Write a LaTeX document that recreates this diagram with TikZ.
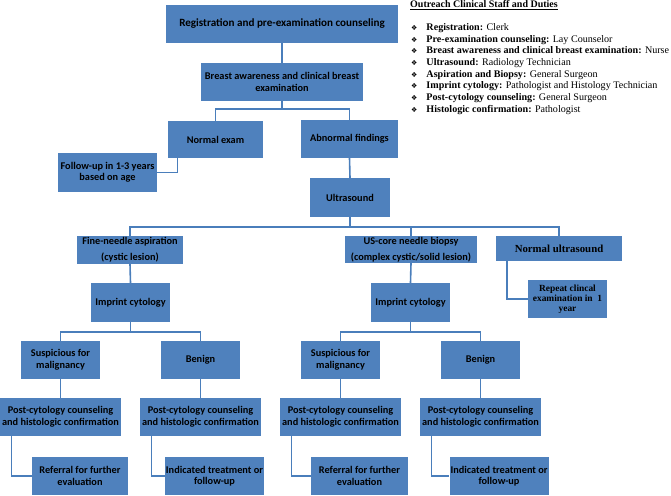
\documentclass[tikz,border=0pt]{standalone}
\usepackage{fontspec}
\setmainfont{Liberation Serif}
\newfontfamily\boxfont{Carlito}
\newfontfamily\dingfont{DejaVu Sans}
\usetikzlibrary{calc}
\definecolor{boxBlue}{HTML}{4F81BD}
\definecolor{linkBlue}{HTML}{4A7EBB}
\newcommand{\dutyMark}{{\dingfont\fontsize{7}{7}\selectfont ❖}}
\tikzset{
  flowBox/.style 2 args={
    fill=boxBlue,
    draw=none,
    inner sep=1pt,
    align=center,
    minimum width=#1pt,
    minimum height=#2pt,
    font=\boxfont\bfseries\fontsize{10.3}{11.5}\selectfont
  },
  serifBox/.style={
    font=\bfseries\fontsize{9.4}{10}\selectfont
  },
  link/.style={
    draw=linkBlue,
    line width=1.6pt
  },
  dutyText/.style={
    inner sep=0pt,
    font=\fontsize{10.1}{11.7}\selectfont
  }
}

\begin{document}
\begin{tikzpicture}[x=1pt, y=-1pt]
\useasboundingbox (0,0) rectangle (671,495);

% === Screening ===
\node[flowBox={232}{38}, font=\boxfont\bfseries\fontsize{11.1}{12}\selectfont] (reg) at (282,24) {Registration and pre-examination counseling};
\node[flowBox={162}{38}] (breast) at (282,82) {Breast awareness and clinical breast\\examination};
\node[flowBox={95}{37}] (normal) at (215.5,139.5) {Normal exam};
\node[flowBox={97}{38}] (abnormal) at (349.5,139) {Abnormal findings};
\node[flowBox={99}{39}] (follow) at (107.5,172.5) {Follow-up in 1-3 years\\based on age};
\node[flowBox={80}{39}] (ultra) at (350,197.5) {Ultrasound};

% === Ultrasound outcomes ===
\node[flowBox={106}{28}, font=\boxfont\bfseries\fontsize{10.3}{16}\selectfont] (fna) at (130,250) {Fine-needle aspiration\\(cystic lesion)};
\node[flowBox={132}{27}, font=\boxfont\bfseries\fontsize{10.3}{15.5}\selectfont] (core) at (411,249.5) {US-core needle biopsy\\(complex cystic/solid lesion)};
\node[flowBox={126}{25}, serifBox, font=\bfseries\fontsize{10.8}{12}\selectfont] (normus) at (559,248.5) {Normal ultrasound};
\node[flowBox={79}{38}, serifBox] (repeat) at (567.5,299) {Repeat clincal\\examination in\ \ 1\\year};

\node[flowBox={79}{39}] (impL) at (130.5,302.5) {Imprint cytology};
\node[flowBox={79}{39}] (impR) at (410.5,302.5) {Imprint cytology};

% === Cytology results ===
\node[flowBox={79}{38}] (suspL) at (60.5,360) {Suspicious for\\malignancy};
\node[flowBox={79}{38}] (benL) at (200.5,360) {Benign};
\node[flowBox={79}{38}] (suspR) at (340.5,360) {Suspicious for\\malignancy};
\node[flowBox={79}{38}] (benR) at (480.5,360) {Benign};

\node[flowBox={121}{38}] (postL1) at (60.5,417) {Post-cytology counseling\\and histologic confirmation};
\node[flowBox={121}{38}] (postL2) at (200.5,417) {Post-cytology counseling\\and histologic confirmation};
\node[flowBox={121}{38}] (postR1) at (340.5,417) {Post-cytology counseling\\and histologic confirmation};
\node[flowBox={121}{38}] (postR2) at (480.5,417) {Post-cytology counseling\\and histologic confirmation};

\node[flowBox={96}{38}] (referL) at (80,476) {Referral for further\\evaluation};
\node[flowBox={87}{38}] (treatL) at (214.5,476) {Indicated treatment or\\follow-up};
\node[flowBox={97}{38}] (referR) at (359.5,476) {Referral for further\\evaluation};
\node[flowBox={96}{38}] (treatR) at (499,476) {Indicated treatment or\\follow-up};

% === Connectors ===
\draw[link] (reg.south) -- (breast.north);
\draw[link] (breast.south) -- ++(0,8) -| (normal.north);
\draw[link] (breast.south) -- ++(0,8) -| (abnormal.north);
\draw[link] ([xshift=-38pt]normal.south) |- (follow.east);
\draw[link] (abnormal.south) -- (ultra.north);

\draw[link] (ultra.south) -- ++(0,10) -| (fna.north);
\draw[link] (ultra.south) -- ++(0,10) -| (core.north);
\draw[link] (ultra.south) -- ++(0,10) -| (normus.north);
\draw[link] ([xshift=-52pt]normus.south) |- (repeat.west);

\draw[link] (fna.south) -- (impL.north);
\draw[link] (core.south) -- (impR.north);

\draw[link] (impL.south) -- ++(0,10) -| (suspL.north);
\draw[link] (impL.south) -- ++(0,10) -| (benL.north);
\draw[link] (impR.south) -- ++(0,10) -| (suspR.north);
\draw[link] (impR.south) -- ++(0,10) -| (benR.north);

\draw[link] (suspL.south) -- (postL1.north);
\draw[link] (benL.south) -- (postL2.north);
\draw[link] (suspR.south) -- (postR1.north);
\draw[link] (benR.south) -- (postR2.north);

\draw[link] ([xshift=-49pt]postL1.south) |- (referL.west);
\draw[link] ([xshift=-49pt]postL2.south) |- (treatL.west);
\draw[link] ([xshift=-49pt]postR1.south) |- (referR.west);
\draw[link] ([xshift=-49pt]postR2.south) |- (treatR.west);

% === Staff legend ===
\node[dutyText, anchor=base west, font=\fontsize{10}{11.7}\selectfont] (dutyHead) at (410,8) {\textbf{\underline{Outreach Clinical Staff and Duties}}};
\node[dutyText, anchor=north west] (dutyList) at (411,22) {%
  \begin{tabular}{@{}l@{\hspace{9pt}}l@{}}
  \dutyMark & \textbf{Registration:} Clerk\\
  \dutyMark & \textbf{Pre-examination counseling:} Lay Counselor\\
  \dutyMark & \textbf{Breast awareness and clinical breast examination:} Nurse\\
  \dutyMark & \textbf{Ultrasound:} Radiology Technician\\
  \dutyMark & \textbf{Aspiration and Biopsy:} General Surgeon\\
  \dutyMark & \textbf{Imprint cytology:} Pathologist and Histology Technician\\
  \dutyMark & \textbf{Post-cytology counseling:} General Surgeon\\
  \dutyMark & \textbf{Histologic confirmation:} Pathologist
  \end{tabular}};
\end{tikzpicture}
\end{document}
